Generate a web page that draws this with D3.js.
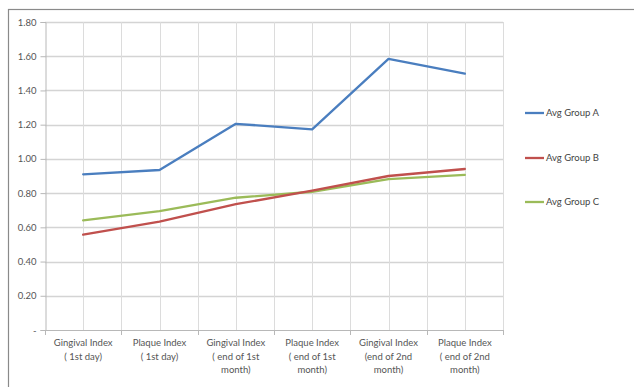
<!DOCTYPE html>
<html>
<head>
<meta charset="utf-8">
<script src="https://cdn.jsdelivr.net/npm/d3@7"></script>
<style>
  html, body { margin: 0; padding: 0; background: #fff; }
  svg { display: block; font-family: Lato, "Open Sans", sans-serif; }
</style>
</head>
<body>
<svg id="chart" width="634" height="387"></svg>
<script>
// Measurement stages (two-line or three-line axis labels)
const categories = [
  ["Gingival Index", "( 1st day)"],
  ["Plaque Index", "( 1st day)"],
  ["Gingival Index", "( end of 1st", "month)"],
  ["Plaque Index", "( end of 1st", "month)"],
  ["Gingival Index", "(end of 2nd", "month)"],
  ["Plaque Index", "( end of 2nd", "month)"]
];

const groupA = [0.91, 0.935, 1.205, 1.173, 1.584, 1.498];
const groupB = [0.557, 0.634, 0.735, 0.814, 0.900, 0.941];
const groupC = [0.641, 0.695, 0.773, 0.808, 0.882, 0.906];

const seriesNames = ["Avg Group A", "Avg Group B", "Avg Group C"];
const seriesColors = ["#4a7ebf", "#c0504d", "#9bbb59"];

const yTicks = [0, 0.2, 0.4, 0.6, 0.8, 1.0, 1.2, 1.4, 1.6, 1.8];

const svg = d3.select("#chart");
const W = 634, H = 387;

// outer chart-area frame
svg.append("rect")
  .attr("x", 8.5).attr("y", 9.5)
  .attr("width", W + 10).attr("height", H + 10)
  .attr("fill", "#fff").attr("stroke", "#8a8a8a").attr("stroke-width", 1.2);

const plot = { left: 45, right: 503, top: 22, bottom: 330 };

const x = d3.scaleBand()
  .domain(d3.range(categories.length))
  .range([plot.left, plot.right])
  .paddingInner(0).paddingOuter(0);

const y = d3.scaleLinear().domain([0, 1.8]).range([plot.bottom, plot.top]);

const g = svg.append("g");

// horizontal gridlines
g.selectAll("line.hgrid")
  .data(yTicks.filter(d => d > 0))
  .join("line")
  .attr("x1", plot.left).attr("x2", plot.right)
  .attr("y1", d => Math.round(y(d)) + 0.5).attr("y2", d => Math.round(y(d)) + 0.5)
  .attr("stroke", "#d4d4d4").attr("stroke-width", 1.3);

// vertical gridlines at category edges and centres
const vLines = [];
categories.forEach((c, i) => {
  vLines.push(x(i) + x.bandwidth() / 2);
  if (i > 0) vLines.push(x(i));
});
vLines.push(plot.right);
g.selectAll("line.vgrid")
  .data(vLines)
  .join("line")
  .attr("x1", d => Math.round(d) + 0.5).attr("x2", d => Math.round(d) + 0.5)
  .attr("y1", plot.top).attr("y2", plot.bottom)
  .attr("stroke", "#dcdcdc").attr("stroke-width", 1);

// y axis
const yAxis = d3.axisLeft(y)
  .tickValues(yTicks)
  .tickSize(5)
  .tickPadding(4)
  .tickFormat(d => d === 0 ? "-" : d3.format(".2f")(d));
const yg = svg.append("g")
  .attr("transform", `translate(${plot.left + 0.5},0)`)
  .call(yAxis);
yg.select(".domain").attr("stroke", "#b8b8b8");
yg.selectAll(".tick line").attr("stroke", "#b8b8b8");
yg.selectAll(".tick text")
  .attr("fill", "#555").attr("font-size", 9.5)
  .attr("font-family", "Lato, sans-serif");

// x axis line and edge ticks
const xg = svg.append("g");
xg.append("line")
  .attr("x1", plot.left).attr("x2", plot.right)
  .attr("y1", plot.bottom + 0.5).attr("y2", plot.bottom + 0.5)
  .attr("stroke", "#b8b8b8");
const edges = d3.range(categories.length + 1).map(i => plot.left + i * x.bandwidth());
xg.selectAll("line.xt")
  .data(edges)
  .join("line")
  .attr("x1", d => Math.round(d) + 0.5).attr("x2", d => Math.round(d) + 0.5)
  .attr("y1", plot.bottom).attr("y2", plot.bottom + 5)
  .attr("stroke", "#b8b8b8");

// category labels
const labels = xg.selectAll("text.cat")
  .data(categories)
  .join("text")
  .attr("text-anchor", "middle")
  .attr("fill", "#555")
  .attr("font-size", 9.5)
  .attr("transform", (d, i) => `translate(${x(i) + x.bandwidth() / 2},${plot.bottom + 16})`);
labels.selectAll("tspan")
  .data(d => d)
  .join("tspan")
  .attr("x", 0)
  .attr("dy", (d, i) => i === 0 ? 0 : 13.5)
  .text(d => d);

// series lines
const line = d3.line()
  .x((d, i) => x(i) + x.bandwidth() / 2)
  .y(d => y(d));

const allSeries = [groupA, groupB, groupC];
svg.append("g").selectAll("path")
  .data(allSeries.slice().reverse())
  .join("path")
  .attr("d", line)
  .attr("fill", "none")
  .attr("stroke", (d, i) => seriesColors[2 - i])
  .attr("stroke-width", 2.3)
  .attr("stroke-linejoin", "round")
  .attr("stroke-linecap", "round");

// legend
const legendY = [113, 158, 202];
const legend = svg.append("g").selectAll("g")
  .data(seriesNames)
  .join("g")
  .attr("transform", (d, i) => `translate(525,${legendY[i]})`);
legend.append("line")
  .attr("x1", 0).attr("x2", 19)
  .attr("stroke", (d, i) => seriesColors[i])
  .attr("stroke-width", 2.3);
legend.append("text")
  .attr("x", 21).attr("dy", "0.35em")
  .attr("fill", "#444").attr("font-size", 9.5)
  .text(d => d);
</script>
</body>
</html>
